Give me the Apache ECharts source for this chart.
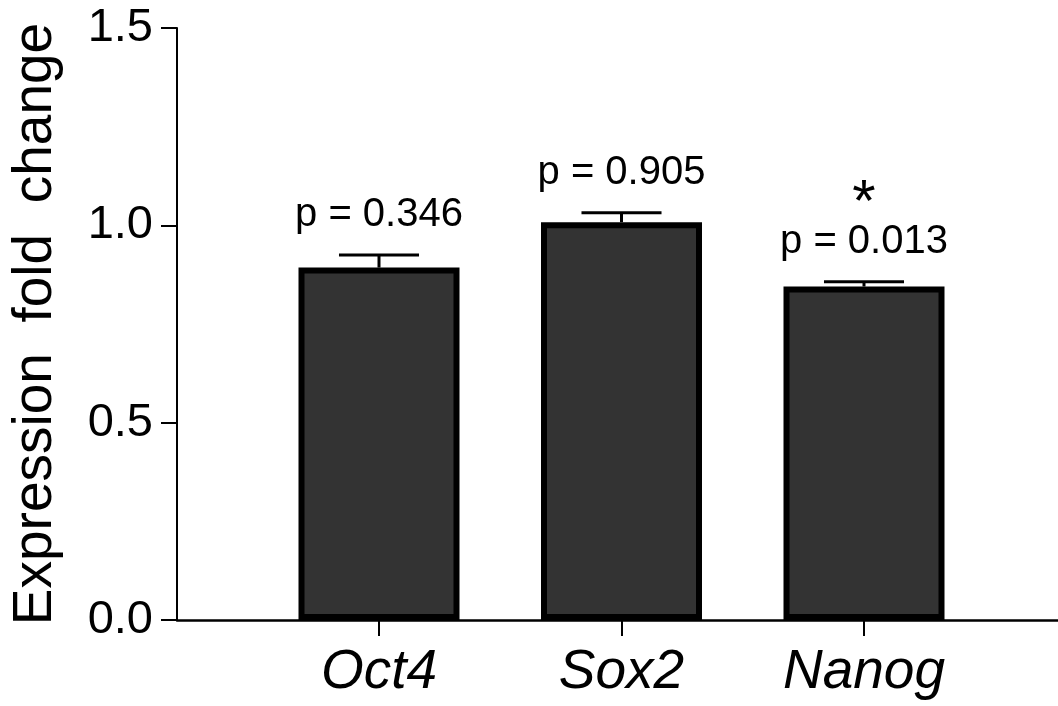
<!DOCTYPE html>
<html>
<head>
<meta charset="utf-8">
<script src="https://cdn.jsdelivr.net/npm/echarts@6/dist/echarts.min.js"></script>
<style>
html,body{margin:0;padding:0;background:#fff;}
#chart{width:1058px;height:706px;}
</style>
</head>
<body>
<div id="chart"></div>
<script>
const categories = ['Oct4', 'Sox2', 'Nanog'];
const means = [0.893, 1.008, 0.845];
const upperErr = [0.925, 1.032, 0.857];
const pLabels = ['p = 0.346', 'p = 0.905', 'p = 0.013'];
const sigMarks = ['', '', '*'];
const yMin = 0, yMax = 1.5, yInterval = 0.5;
const yTitle = 'Expression  fold  change';

const FONT = "'Liberation Sans', Arial, sans-serif";
const chart = echarts.init(document.getElementById('chart'), null, {renderer: 'canvas'});

const errData = categories.map((c, i) => [i, means[i], upperErr[i], pLabels[i], sigMarks[i]]);

const option = {
  animation: false,
  backgroundColor: '#ffffff',
  grid: [
    {left: 257.75, right: 72.75, top: 28, bottom: 86},
    {left: 176, right: 0, top: 28, bottom: 86}
  ],
  xAxis: [
    {
      type: 'category', gridIndex: 0, data: categories,
      axisLine: {show: false},
      axisTick: {show: true, alignWithLabel: true, length: 16, lineStyle: {color: '#000', width: 2}},
      axisLabel: {color: '#000', fontSize: 55, fontStyle: 'italic', fontFamily: FONT, margin: 25}
    },
    {
      type: 'value', gridIndex: 1, min: 0, max: 1,
      axisLine: {show: true, onZero: false, lineStyle: {color: '#000', width: 2.5}},
      axisTick: {show: false}, axisLabel: {show: false}, splitLine: {show: false}
    }
  ],
  yAxis: [
    {type: 'value', gridIndex: 0, min: yMin, max: yMax, interval: yInterval, show: false},
    {
      type: 'value', gridIndex: 1, min: yMin, max: yMax, interval: yInterval,
      name: yTitle, nameLocation: 'middle', nameRotate: 90, nameGap: 114,
      nameTextStyle: {color: '#000', fontSize: 55, fontFamily: FONT},
      axisLine: {show: true, lineStyle: {color: '#000', width: 2}},
      axisTick: {show: true, length: 16, lineStyle: {color: '#000', width: 2}},
      axisLabel: {color: '#000', fontSize: 47, fontFamily: FONT, margin: 24,
        formatter: v => v.toFixed(1)},
      splitLine: {show: false}
    }
  ],
  series: [
    {
      type: 'bar', xAxisIndex: 0, yAxisIndex: 0, data: means,
      barWidth: 161,
      itemStyle: {color: '#333333', borderColor: '#000000', borderWidth: 6},
      z: 3
    },
    {
      type: 'custom', xAxisIndex: 0, yAxisIndex: 0, data: errData, z: 2,
      renderItem: function (params, api) {
        const idx = api.value(0);
        const base = api.coord([idx, api.value(1)]);
        const top = api.coord([idx, api.value(2)]);
        const band = api.size([1, 0])[0];
        const capHalf = band * 0.165;
        const lbl = errData[params.dataIndex][3];
        const sig = errData[params.dataIndex][4];
        const children = [
          {type: 'line', shape: {x1: base[0], y1: base[1], x2: top[0], y2: top[1]},
            style: {stroke: '#000', lineWidth: 3}},
          {type: 'line', shape: {x1: top[0] - capHalf, y1: top[1], x2: top[0] + capHalf, y2: top[1]},
            style: {stroke: '#000', lineWidth: 3}},
          {type: 'text', x: top[0], y: top[1] - 40,
            style: {text: lbl, fill: '#000', font: '40px ' + FONT, align: 'center', verticalAlign: 'middle'}}
        ];
        if (sig) {
          children.push({type: 'text', x: top[0], y: top[1] - 77,
            style: {text: sig, fill: '#000', font: '60px ' + FONT, align: 'center', verticalAlign: 'middle'}});
        }
        return {type: 'group', children: children};
      }
    }
  ]
};
chart.setOption(option);
</script>
</body>
</html>
